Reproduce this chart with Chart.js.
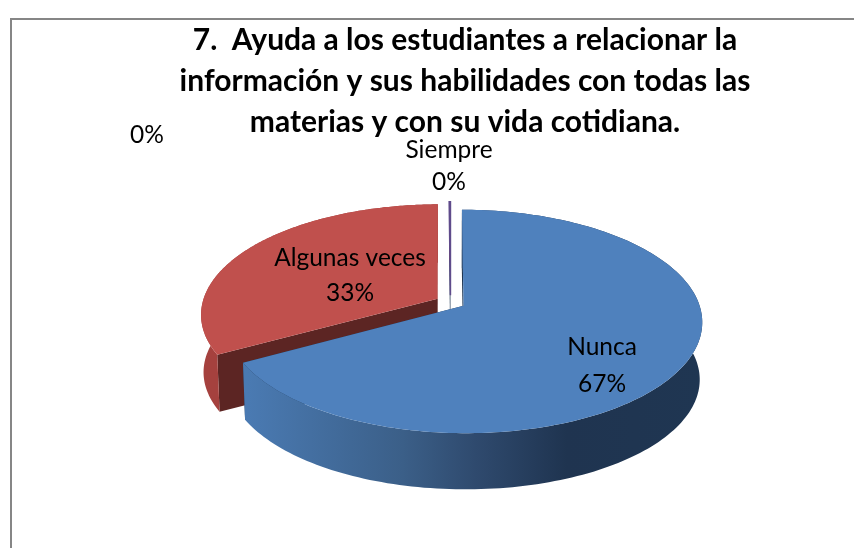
<!DOCTYPE html>
<html>
<head>
<meta charset="utf-8">
<style>
html,body{margin:0;padding:0;background:#fff;width:854px;height:548px;overflow:hidden}
#frame{position:absolute;left:10px;top:18px;right:-4px;bottom:-4px;border:2px solid #868686;box-sizing:border-box}
#c{position:absolute;left:0;top:0}
</style>
<script src="https://cdn.jsdelivr.net/npm/chart.js@4/dist/chart.umd.min.js"></script>
</head>
<body>
<div id="frame"></div>
<canvas id="c" width="854" height="548"></canvas>
<script>
const categories = ["Nunca", "Algunas veces", "Siempre", ""];
const values = [67, 33, 0.1, 0];
const titleLines = [
  "7.  Ayuda a los estudiantes a relacionar la",
  "información y sus habilidades con todas las",
  "materias y con su vida cotidiana."
];
const sliceColors = ["#4f81bd", "#c0504d", "#5f4b8b", "#9bbb59"];

const total = values.reduce((s, v) => s + v, 0);

// Perspective view of the pie plane
const view = { dx: -14.5, dy: -2, a: 235, b: 108.5, p: 0.14, floorScale: 0.99, depth: 57.5 };
const labelSpots = [[602, 347, 384], [350, 258, 293], [449, 150, 182], [147, null, 135]];

function project(cx, cy, u, v, floor) {
  const w = 1 - view.p * v;
  const s = floor ? view.floorScale : 1;
  return [cx + s * view.a * u / w, cy + s * view.b * v / w + (floor ? view.depth : 0)];
}

const pie3d = {
  id: "pie3d",
  beforeDatasetsDraw(chart) {
    const ctx = chart.ctx;
    const arcs = chart.getDatasetMeta(0).data;
    ctx.save();
    [1, 2, 3, 0].forEach(i => {
      const arc = arcs[i];
      const q = arc.getProps(["x", "y", "startAngle", "endAngle", "outerRadius"], true);
      if (q.endAngle - q.startAngle <= 0) return;
      const cx = q.x + view.dx, cy = q.y + view.dy;
      const off = (arc.options.offset || 0) / q.outerRadius;
      const mid = (q.startAngle + q.endAngle) / 2;
      const du = off * Math.cos(mid), dv = off * Math.sin(mid);
      const rim = floor => {
        const pts = [], n = 180;
        for (let k = 0; k <= n; k++) {
          const t = q.startAngle + (q.endAngle - q.startAngle) * k / n;
          pts.push(project(cx, cy, du + Math.cos(t), dv + Math.sin(t), floor));
        }
        return pts;
      };
      const hub = floor => project(cx, cy, du, dv, floor);
      const poly = pts => {
        ctx.beginPath();
        pts.forEach((pt, k) => k ? ctx.lineTo(pt[0], pt[1]) : ctx.moveTo(pt[0], pt[1]));
        ctx.closePath();
      };
      const top = rim(false), bottom = rim(true);
      const hubT = hub(false), hubB = hub(true);

      // inner cut faces
      ctx.fillStyle = i === 1 ? "#5c2523" : "#1f3652";
      poly([hubT, top[0], bottom[0], hubB]); ctx.fill();
      poly([hubT, top[top.length - 1], bottom[bottom.length - 1], hubB]); ctx.fill();

      // outer wall
      const g = ctx.createLinearGradient(248, 0, 703, 0);
      if (i === 0) {
        g.addColorStop(0, "#4a7ab2");
        g.addColorStop(0.34, "#3b5f88");
        g.addColorStop(0.5, "#2f4a6e");
        g.addColorStop(0.7, "#1f3450");
        g.addColorStop(1, "#1f3652");
      } else {
        g.addColorStop(0, "#a5413e");
        g.addColorStop(1, "#8a3432");
      }
      ctx.fillStyle = g;
      poly(top.concat(bottom.slice().reverse())); ctx.fill();

      // top face
      ctx.fillStyle = arc.options.backgroundColor;
      poly([hubT].concat(top)); ctx.fill();
      if (arc.options.borderWidth > 0) {
        ctx.strokeStyle = arc.options.borderColor;
        ctx.lineWidth = arc.options.borderWidth;
        ctx.stroke();
      }
    });
    ctx.restore();
    return false;
  },
  afterDraw(chart) {
    const ctx = chart.ctx;
    ctx.save();
    ctx.fillStyle = "#000";
    ctx.font = "24.5px Lato";
    ctx.textAlign = "center";
    ctx.textBaseline = "middle";
    categories.forEach((name, i) => {
      const spot = labelSpots[i];
      if (name) ctx.fillText(name, spot[0], spot[1]);
      ctx.fillText(Math.round(values[i] / total * 100) + "%", spot[0], spot[2]);
    });
    ctx.restore();
  }
};

new Chart(document.getElementById("c"), {
  type: "pie",
  data: {
    labels: categories,
    datasets: [{
      data: values,
      backgroundColor: sliceColors,
      borderColor: sliceColors,
      borderWidth: [0, 0, 1.5, 0],
      offset: 10
    }]
  },
  options: {
    responsive: false,
    animation: false,
    layout: { padding: { left: 76, right: 0, top: 0, bottom: 82 } },
    plugins: {
      legend: { display: false },
      tooltip: { enabled: false },
      title: {
        display: true,
        text: titleLines,
        color: "#000",
        font: { family: "Lato", size: 30, weight: "bold", lineHeight: 1.36 },
        padding: { top: 20, bottom: 0 }
      }
    }
  },
  plugins: [pie3d]
});
</script>
</body>
</html>
